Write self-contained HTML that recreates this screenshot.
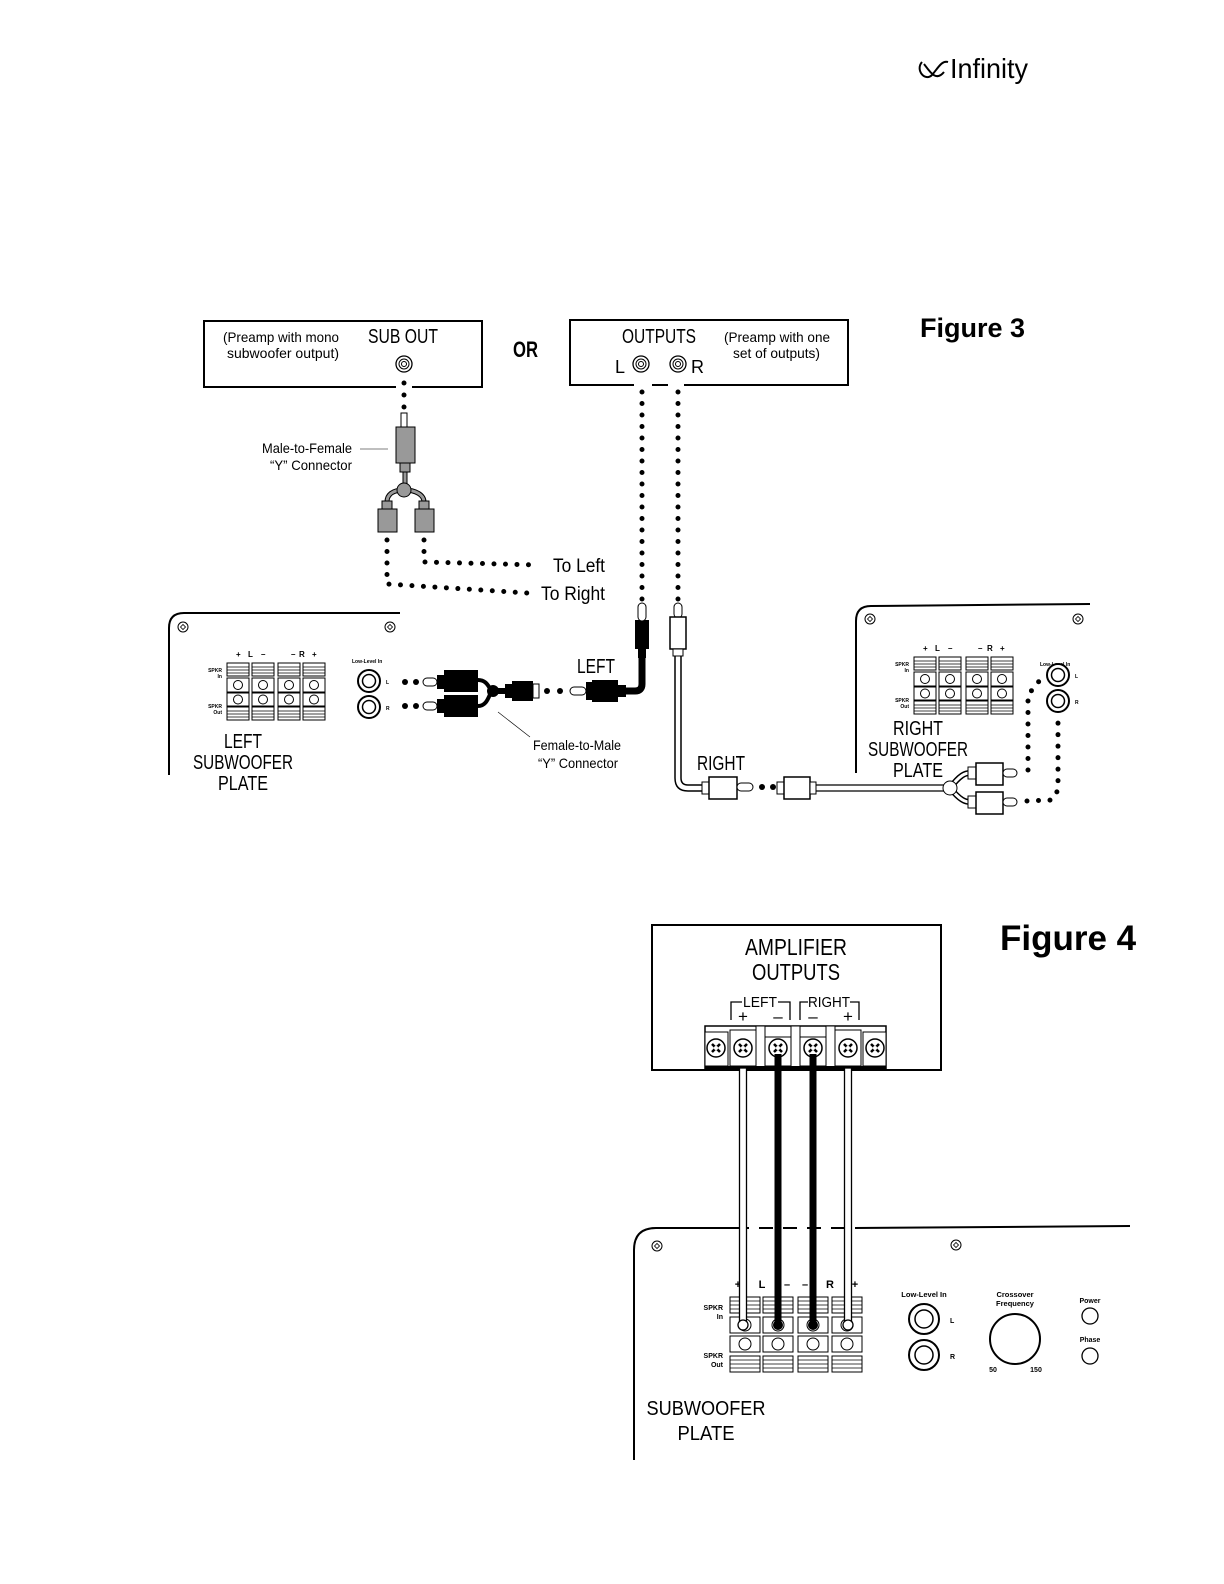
<!DOCTYPE html>
<html><head><meta charset="utf-8"><style>
html,body{margin:0;padding:0;background:#fff}
svg{display:block}
text{font-family:"Liberation Sans",sans-serif;fill:#000}
</style></head><body>
<svg width="1224" height="1584" viewBox="0 0 1224 1584" xmlns="http://www.w3.org/2000/svg">
<defs>
<g id="stripe"><rect x="0" y="0" width="22" height="13" fill="#fff" stroke="#000" stroke-width="1"/><line x1="0" y1="4" x2="22" y2="4" stroke="#000" stroke-width="0.8"/><line x1="0" y1="7" x2="22" y2="7" stroke="#000" stroke-width="0.8"/><line x1="0" y1="10" x2="22" y2="10" stroke="#000" stroke-width="0.8"/></g>
<g id="tcol"><use href="#stripe"/><rect x="0" y="15" width="22" height="14" fill="#fff" stroke="#000"/><circle cx="11" cy="22" r="4.5" fill="#fff" stroke="#000"/><rect x="0" y="30" width="22" height="13" fill="#fff" stroke="#000"/><circle cx="11" cy="36.5" r="4.5" fill="#fff" stroke="#000"/><use href="#stripe" y="44"/></g>
<g id="stripe4"><rect x="0" y="0" width="30" height="16" fill="#fff" stroke="#000"/><line x1="0" y1="4" x2="30" y2="4" stroke="#000" stroke-width="0.8"/><line x1="0" y1="8" x2="30" y2="8" stroke="#000" stroke-width="0.8"/><line x1="0" y1="12" x2="30" y2="12" stroke="#000" stroke-width="0.8"/></g>
<g id="tcol4"><use href="#stripe4"/><rect x="0" y="20" width="30" height="16" fill="#fff" stroke="#000"/><circle cx="15" cy="28" r="6" fill="#fff" stroke="#000"/><rect x="0" y="39" width="30" height="16" fill="#fff" stroke="#000"/><circle cx="15" cy="47" r="6" fill="#fff" stroke="#000"/><use href="#stripe4" y="59"/></g>
<g id="scr"><circle r="5" fill="#fff" stroke="#000"/><path d="M-2.5,0 L0,-2.5 L2.5,0 L0,2.5Z" fill="none" stroke="#000" stroke-width="0.8"/></g>
<g id="bscr"><circle r="9" fill="#fff" stroke="#000" stroke-width="1.5"/><path d="M-4,-4 L4,4 M-4,4 L4,-4" stroke="#000" stroke-width="2.5"/><circle r="2" fill="#fff" stroke="none"/></g>
<g id="jk"><circle r="11" fill="#fff" stroke="#000" stroke-width="2"/><circle r="6.5" fill="#fff" stroke="#000" stroke-width="1.5"/></g>
<g id="sj"><circle r="8" fill="#fff" stroke="#000" stroke-width="1.3"/><circle r="5" fill="#fff" stroke="#000"/><circle r="2.5" fill="#fff" stroke="#000"/></g>
</defs>

<!-- Logo -->
<path d="M922,62 C915,70 925,82 932,75 C938,68 942,60 948,62 M924,64 C930,72 936,82 944,72" fill="none" stroke="#000" stroke-width="2"/>
<text x="950" y="78" font-size="28" textLength="78" lengthAdjust="spacingAndGlyphs">Infinity</text>

<!-- FIGURE 3 -->
<text x="920" y="337" font-size="27" font-weight="bold">Figure 3</text>
<rect x="204" y="321" width="278" height="66" fill="none" stroke="#000" stroke-width="2"/>
<text x="223" y="342" font-size="14" textLength="116" lengthAdjust="spacingAndGlyphs">(Preamp with mono</text>
<text x="227" y="358" font-size="14" textLength="112" lengthAdjust="spacingAndGlyphs">subwoofer output)</text>
<text x="368" y="343" font-size="20" textLength="70" lengthAdjust="spacingAndGlyphs">SUB OUT</text>
<use href="#sj" x="404" y="364"/>
<text x="513" y="357" font-size="22" font-weight="bold" textLength="25" lengthAdjust="spacingAndGlyphs">OR</text>
<rect x="570" y="320" width="278" height="65" fill="none" stroke="#000" stroke-width="2"/>
<text x="622" y="343" font-size="20" textLength="74" lengthAdjust="spacingAndGlyphs">OUTPUTS</text>
<text x="724" y="342" font-size="14" textLength="106" lengthAdjust="spacingAndGlyphs">(Preamp with one</text>
<text x="733" y="358" font-size="14" textLength="87" lengthAdjust="spacingAndGlyphs">set of outputs)</text>
<text x="615" y="373" font-size="18">L</text>
<text x="691" y="373" font-size="18">R</text>
<use href="#sj" x="641" y="364"/><use href="#sj" x="678" y="364"/>
<rect x="396" y="384" width="16" height="5" fill="#fff"/>
<rect x="634" y="383" width="50" height="5" fill="#fff"/>
<line x1="652" y1="385" x2="668" y2="385" stroke="#000" stroke-width="2"/>

<g fill="#000">
<circle cx="404" cy="383" r="2.5"/><circle cx="404" cy="395" r="2.5"/><circle cx="404" cy="407" r="2.5"/>
</g>
<rect x="401" y="413" width="6" height="15" fill="#fff" stroke="#000"/>
<rect x="396" y="427" width="19" height="36" fill="#999" stroke="#000"/>
<rect x="400" y="463" width="10" height="9" fill="#999" stroke="#000"/>
<rect x="403" y="472" width="4" height="12" fill="#999" stroke="#000"/>
<path d="M404,490 C392,490 387,495 387,502 M404,490 C416,490 424,495 424,502" fill="none" stroke="#000" stroke-width="5"/>
<path d="M404,490 C392,490 387,495 387,502 M404,490 C416,490 424,495 424,502" fill="none" stroke="#999" stroke-width="3"/>
<circle cx="404" cy="490" r="7" fill="#999" stroke="#000"/>
<rect x="382" y="501" width="10" height="8" fill="#999" stroke="#000"/>
<rect x="378" y="509" width="19" height="23" fill="#999" stroke="#000"/>
<rect x="419" y="501" width="10" height="8" fill="#999" stroke="#000"/>
<rect x="415" y="509" width="19" height="23" fill="#999" stroke="#000"/>
<text x="262" y="453" font-size="14" textLength="90" lengthAdjust="spacingAndGlyphs">Male-to-Female</text>
<text x="270" y="470" font-size="14" textLength="82" lengthAdjust="spacingAndGlyphs">“Y” Connector</text>
<line x1="360" y1="449" x2="388" y2="449" stroke="#000" stroke-width="0.6"/>
<g stroke="#000" stroke-width="5" stroke-linecap="round" stroke-dasharray="0 11.5" fill="none">
<path d="M387,540 L387,584 L527,593"/>
<path d="M424,540 L424,562 L538,565"/>
<path d="M642,392 L642,608"/>
<path d="M678,392 L678,608"/>
</g>
<text x="553" y="572" font-size="19" textLength="52" lengthAdjust="spacingAndGlyphs">To Left</text>
<text x="541" y="600" font-size="19" textLength="64" lengthAdjust="spacingAndGlyphs">To Right</text>

<!-- LEFT plate -->
<path d="M169,775 L169,628 Q169,613 184,613 L400,613" fill="none" stroke="#000" stroke-width="2"/>
<use href="#scr" x="183" y="627"/><use href="#scr" x="390" y="627"/>
<use href="#tcol" x="227" y="663"/><use href="#tcol" x="252" y="663"/><use href="#tcol" x="278" y="663"/><use href="#tcol" x="303" y="663"/>
<text y="657" font-size="8" font-weight="bold"><tspan x="236">+</tspan><tspan x="248">L</tspan><tspan x="261">–</tspan><tspan x="291">–</tspan><tspan x="299">R</tspan><tspan x="312">+</tspan></text>
<text x="222" y="672" font-size="5" font-weight="bold" text-anchor="end">SPKR</text>
<text x="222" y="678" font-size="5" font-weight="bold" text-anchor="end">In</text>
<text x="222" y="708" font-size="5" font-weight="bold" text-anchor="end">SPKR</text>
<text x="222" y="714" font-size="5" font-weight="bold" text-anchor="end">Out</text>
<text x="352" y="663" font-size="5" font-weight="bold">Low-Level In</text>
<use href="#jk" x="369" y="681"/><use href="#jk" x="369" y="707"/>
<text x="386" y="684" font-size="5" font-weight="bold">L</text>
<text x="386" y="710" font-size="5" font-weight="bold">R</text>
<text x="243" y="748" font-size="20" text-anchor="middle" textLength="38" lengthAdjust="spacingAndGlyphs">LEFT</text>
<text x="243" y="769" font-size="20" text-anchor="middle" textLength="100" lengthAdjust="spacingAndGlyphs">SUBWOOFER</text>
<text x="243" y="790" font-size="20" text-anchor="middle" textLength="50" lengthAdjust="spacingAndGlyphs">PLATE</text>
<g fill="#000">
<circle cx="405" cy="682" r="3"/><circle cx="416" cy="682" r="3"/>
<circle cx="405" cy="706" r="3"/><circle cx="416" cy="706" r="3"/>
</g>
<rect x="423" y="678" width="14" height="8" rx="4" fill="#fff" stroke="#000"/>
<rect x="423" y="702" width="14" height="8" rx="4" fill="#fff" stroke="#000"/>
<rect x="437" y="675" width="7" height="14" fill="#000"/><rect x="444" y="670" width="34" height="22" fill="#000"/>
<rect x="437" y="699" width="7" height="14" fill="#000"/><rect x="444" y="695" width="34" height="22" fill="#000"/>
<path d="M478,680 C489,680 489,691 493,691 M478,706 C489,706 489,691 493,691" fill="none" stroke="#000" stroke-width="4"/>
<circle cx="493" cy="691" r="6" fill="#000"/>
<rect x="493" y="688" width="12" height="6" fill="#000"/>
<rect x="505" y="684" width="7" height="14" fill="#000"/>
<rect x="512" y="681" width="21" height="20" fill="#000"/>
<rect x="533" y="684" width="6" height="14" fill="#fff" stroke="#000"/>
<circle cx="547" cy="691" r="3" fill="#000"/><circle cx="560" cy="691" r="3" fill="#000"/>
<rect x="570" y="687" width="16" height="8" rx="4" fill="#fff" stroke="#000"/>
<rect x="586" y="682" width="6" height="18" fill="#000"/>
<rect x="592" y="680" width="26" height="22" fill="#000"/>
<rect x="618" y="685" width="8" height="12" fill="#000"/>
<path d="M626,691 L635,691 Q642,691 642,684 L642,655" fill="none" stroke="#000" stroke-width="7"/>
<rect x="638" y="648" width="8" height="10" fill="#000"/>
<rect x="635" y="620" width="14" height="29" fill="#000"/>
<rect x="638" y="603" width="8" height="18" rx="4" fill="#fff" stroke="#000"/>
<text x="577" y="673" font-size="20" textLength="38" lengthAdjust="spacingAndGlyphs">LEFT</text>
<line x1="498" y1="712" x2="530" y2="737" stroke="#000" stroke-width="0.6"/>
<text x="533" y="750" font-size="14" textLength="88" lengthAdjust="spacingAndGlyphs">Female-to-Male</text>
<text x="538" y="768" font-size="14" textLength="80" lengthAdjust="spacingAndGlyphs">“Y” Connector</text>

<!-- RIGHT cable -->
<rect x="674" y="603" width="8" height="15" rx="4" fill="#fff" stroke="#000"/>
<rect x="670" y="617" width="16" height="32" fill="#fff" stroke="#000" stroke-width="1.5"/>
<rect x="673" y="649" width="10" height="7" fill="#fff" stroke="#000"/>
<path d="M675,656 L675,778 Q675,791 688,791 L702,791" fill="none" stroke="#000" stroke-width="1.5"/>
<path d="M681,656 L681,778 Q681,785 688,785 L702,785" fill="none" stroke="#000" stroke-width="1.5"/>
<rect x="702" y="782" width="7" height="12" fill="#fff" stroke="#000"/>
<rect x="709" y="777" width="28" height="22" fill="#fff" stroke="#000" stroke-width="1.5"/>
<rect x="737" y="783" width="16" height="8" rx="4" fill="#fff" stroke="#000"/>
<circle cx="762" cy="787" r="3" fill="#000"/><circle cx="773" cy="787" r="3" fill="#000"/>
<rect x="777" y="782" width="7" height="12" fill="#fff" stroke="#000"/>
<rect x="784" y="777" width="26" height="22" fill="#fff" stroke="#000" stroke-width="1.5"/>
<rect x="810" y="782" width="6" height="12" fill="#fff" stroke="#000"/>
<line x1="816" y1="785" x2="946" y2="785" stroke="#000" stroke-width="1.2"/>
<line x1="816" y1="791" x2="946" y2="791" stroke="#000" stroke-width="1.2"/>
<path d="M950,788 C960,775 965,773 970,773 M950,788 C960,800 965,802 970,802" fill="none" stroke="#000" stroke-width="6"/>
<path d="M950,788 C960,775 965,773 970,773 M950,788 C960,800 965,802 970,802" fill="none" stroke="#fff" stroke-width="3"/>
<circle cx="950" cy="788" r="7" fill="#fff" stroke="#000"/>
<rect x="968" y="767" width="8" height="12" fill="#fff" stroke="#000"/>
<rect x="976" y="763" width="27" height="22" fill="#fff" stroke="#000" stroke-width="1.5"/>
<rect x="1003" y="769" width="14" height="8" rx="4" fill="#fff" stroke="#000"/>
<rect x="968" y="796" width="8" height="12" fill="#fff" stroke="#000"/>
<rect x="976" y="792" width="27" height="22" fill="#fff" stroke="#000" stroke-width="1.5"/>
<rect x="1003" y="798" width="14" height="8" rx="4" fill="#fff" stroke="#000"/>
<text x="697" y="770" font-size="20" textLength="48" lengthAdjust="spacingAndGlyphs">RIGHT</text>

<!-- RIGHT plate -->
<path d="M856,773 L856,621 Q856,606 871,606 L1090,604" fill="none" stroke="#000" stroke-width="2"/>
<use href="#scr" x="870" y="619"/><use href="#scr" x="1078" y="619"/>
<use href="#tcol" x="914" y="657"/><use href="#tcol" x="939" y="657"/><use href="#tcol" x="966" y="657"/><use href="#tcol" x="991" y="657"/>
<text y="651" font-size="8" font-weight="bold"><tspan x="923">+</tspan><tspan x="935">L</tspan><tspan x="948">–</tspan><tspan x="978">–</tspan><tspan x="987">R</tspan><tspan x="1000">+</tspan></text>
<text x="909" y="666" font-size="5" font-weight="bold" text-anchor="end">SPKR</text>
<text x="909" y="672" font-size="5" font-weight="bold" text-anchor="end">In</text>
<text x="909" y="702" font-size="5" font-weight="bold" text-anchor="end">SPKR</text>
<text x="909" y="708" font-size="5" font-weight="bold" text-anchor="end">Out</text>
<text x="1040" y="666" font-size="5" font-weight="bold">Low-Level In</text>
<use href="#jk" x="1058" y="675"/><use href="#jk" x="1058" y="701"/>
<text x="1075" y="678" font-size="5" font-weight="bold">L</text>
<text x="1075" y="704" font-size="5" font-weight="bold">R</text>
<text x="918" y="735" font-size="20" text-anchor="middle" textLength="50" lengthAdjust="spacingAndGlyphs">RIGHT</text>
<text x="918" y="756" font-size="20" text-anchor="middle" textLength="100" lengthAdjust="spacingAndGlyphs">SUBWOOFER</text>
<text x="918" y="777" font-size="20" text-anchor="middle" textLength="50" lengthAdjust="spacingAndGlyphs">PLATE</text>
<g stroke="#000" stroke-width="5" stroke-linecap="round" stroke-dasharray="0 11.5" fill="none">
<path d="M1028,770 L1028,695 L1040,680"/>
<path d="M1027,801 L1052,800 L1058,790 L1058,720"/>
</g>

<!-- FIGURE 4 -->
<text x="1000" y="950" font-size="35" font-weight="bold">Figure 4</text>
<rect x="652" y="925" width="289" height="145" fill="none" stroke="#000" stroke-width="2"/>
<text x="796" y="955" font-size="23" text-anchor="middle" textLength="102" lengthAdjust="spacingAndGlyphs">AMPLIFIER</text>
<text x="796" y="980" font-size="23" text-anchor="middle" textLength="88" lengthAdjust="spacingAndGlyphs">OUTPUTS</text>
<path d="M731,1020 L731,1002 L742,1002 M778,1002 L790,1002 L790,1020" fill="none" stroke="#000" stroke-width="1.3"/>
<path d="M800,1020 L800,1002 L808,1002 M850,1002 L859,1002 L859,1020" fill="none" stroke="#000" stroke-width="1.3"/>
<text x="760" y="1007" font-size="15" text-anchor="middle" textLength="34" lengthAdjust="spacingAndGlyphs">LEFT</text>
<text x="829" y="1007" font-size="15" text-anchor="middle" textLength="42" lengthAdjust="spacingAndGlyphs">RIGHT</text>
<text y="1022" font-size="17" text-anchor="middle"><tspan x="743">+</tspan><tspan x="778">–</tspan><tspan x="813">–</tspan><tspan x="848">+</tspan></text>
<rect x="705" y="1026" width="181" height="44" fill="#fff" stroke="#000" stroke-width="1.5"/>
<rect x="705" y="1032" width="23" height="34" fill="#fff" stroke="#000"/>
<rect x="863" y="1032" width="23" height="34" fill="#fff" stroke="#000"/>
<rect x="730" y="1030" width="26" height="36" fill="#fff" stroke="#000"/>
<rect x="765" y="1037" width="26" height="29" fill="#fff" stroke="#000"/>
<rect x="800" y="1037" width="26" height="29" fill="#fff" stroke="#000"/>
<rect x="835" y="1030" width="26" height="36" fill="#fff" stroke="#000"/>
<rect x="756" y="1026" width="9" height="44" fill="#fff" stroke="#000"/>
<rect x="791" y="1026" width="9" height="44" fill="#fff" stroke="#000"/>
<rect x="826" y="1026" width="9" height="44" fill="#fff" stroke="#000"/>
<rect x="705" y="1066" width="181" height="4" fill="#000"/>
<use href="#bscr" x="716" y="1048"/><use href="#bscr" x="743" y="1048"/><use href="#bscr" x="778" y="1048"/><use href="#bscr" x="813" y="1048"/><use href="#bscr" x="848" y="1048"/><use href="#bscr" x="875" y="1048"/>

<path d="M634,1460 L634,1250 Q634,1228 656,1228 L735,1228" fill="none" stroke="#000" stroke-width="2"/>
<path d="M735,1228 L855,1228" fill="none" stroke="#000" stroke-width="2" stroke-dasharray="14 10"/>
<path d="M855,1228 L1130,1226" fill="none" stroke="#000" stroke-width="2"/>
<use href="#scr" x="657" y="1246"/><use href="#scr" x="956" y="1245"/>
<use href="#tcol4" x="730" y="1297"/><use href="#tcol4" x="763" y="1297"/><use href="#tcol4" x="798" y="1297"/><use href="#tcol4" x="832" y="1297"/>
<text y="1288" font-size="11" font-weight="bold" text-anchor="middle"><tspan x="738">+</tspan><tspan x="762">L</tspan><tspan x="787">–</tspan><tspan x="805">–</tspan><tspan x="830">R</tspan><tspan x="855">+</tspan></text>
<text x="723" y="1310" font-size="7" font-weight="bold" text-anchor="end">SPKR</text>
<text x="723" y="1319" font-size="7" font-weight="bold" text-anchor="end">In</text>
<text x="723" y="1358" font-size="7" font-weight="bold" text-anchor="end">SPKR</text>
<text x="723" y="1367" font-size="7" font-weight="bold" text-anchor="end">Out</text>
<rect x="739.5" y="1068" width="7" height="256" fill="#fff" stroke="#000" stroke-width="1.3"/>
<circle cx="743" cy="1325" r="5" fill="#fff" stroke="#000" stroke-width="1.3"/>
<rect x="844.5" y="1068" width="7" height="256" fill="#fff" stroke="#000" stroke-width="1.3"/>
<circle cx="848" cy="1325" r="5" fill="#fff" stroke="#000" stroke-width="1.3"/>
<rect x="774.5" y="1054" width="7" height="270" fill="#000"/>
<circle cx="778" cy="1325" r="5" fill="#000"/>
<rect x="809.5" y="1054" width="7" height="270" fill="#000"/>
<circle cx="813" cy="1325" r="5" fill="#000"/>
<text x="924" y="1297" font-size="7.5" font-weight="bold" text-anchor="middle">Low-Level In</text>
<circle cx="924" cy="1319" r="15" fill="#fff" stroke="#000" stroke-width="2"/><circle cx="924" cy="1319" r="9" fill="#fff" stroke="#000" stroke-width="1.5"/>
<circle cx="924" cy="1355" r="15" fill="#fff" stroke="#000" stroke-width="2"/><circle cx="924" cy="1355" r="9" fill="#fff" stroke="#000" stroke-width="1.5"/>
<text x="950" y="1323" font-size="7" font-weight="bold">L</text>
<text x="950" y="1359" font-size="7" font-weight="bold">R</text>
<text x="1015" y="1297" font-size="7.5" font-weight="bold" text-anchor="middle">Crossover</text>
<text x="1015" y="1306" font-size="7.5" font-weight="bold" text-anchor="middle">Frequency</text>
<circle cx="1015" cy="1339" r="25" fill="#fff" stroke="#000" stroke-width="2"/>
<text x="993" y="1372" font-size="7" font-weight="bold" text-anchor="middle">50</text>
<text x="1036" y="1372" font-size="7" font-weight="bold" text-anchor="middle">150</text>
<text x="1090" y="1303" font-size="7" font-weight="bold" text-anchor="middle">Power</text>
<circle cx="1090" cy="1316" r="8" fill="#fff" stroke="#000" stroke-width="1.3"/>
<text x="1090" y="1342" font-size="7" font-weight="bold" text-anchor="middle">Phase</text>
<circle cx="1090" cy="1356" r="8" fill="#fff" stroke="#000" stroke-width="1.3"/>
<text x="706" y="1415" font-size="20" text-anchor="middle" textLength="119" lengthAdjust="spacingAndGlyphs">SUBWOOFER</text>
<text x="706" y="1440" font-size="20" text-anchor="middle" textLength="57" lengthAdjust="spacingAndGlyphs">PLATE</text>
</svg>
</body></html>
